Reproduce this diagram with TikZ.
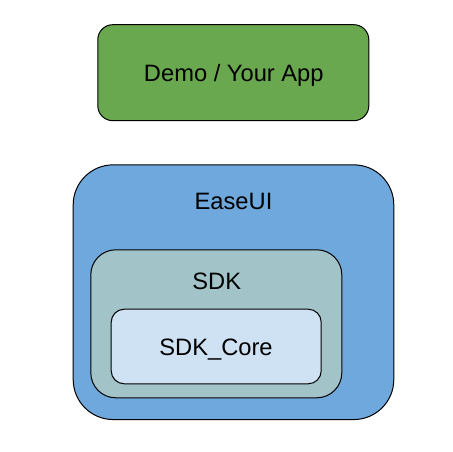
\documentclass[tikz,border=0pt]{standalone}
\usepackage{fontspec}
\setmainfont{Liberation Sans}
\definecolor{appgreen}{HTML}{6AA84F}
\definecolor{easeblue}{HTML}{6FA8DC}
\definecolor{sdkteal}{HTML}{A2C4C9}
\definecolor{coreblue}{HTML}{CFE2F3}
\tikzset{
  boxstyle/.style={draw=black, line width=1pt, rectangle, inner sep=0pt},
  txt/.style={inner sep=0pt, anchor=base, font=\fontsize{23.7}{28}\selectfont}
}
\begin{document}
\begin{tikzpicture}[x=1pt,y=-1pt]
\useasboundingbox (0,0) rectangle (453,452);
\node[boxstyle, fill=appgreen, rounded corners=15pt, minimum width=271pt, minimum height=96pt] (app) at (233.3,72.7) {};
\node[txt] (apptxt) at (233.8,81.7) {Demo / Your App};
\node[boxstyle, fill=easeblue, rounded corners=40pt, minimum width=320.6pt, minimum height=254.7pt] (ease) at (233.5,292.2) {};
\node[txt] (easetxt) at (233.5,209) {EaseUI};
\node[boxstyle, fill=sdkteal, rounded corners=25pt, minimum width=251pt, minimum height=148pt] (sdk) at (216.3,323.8) {};
\node[txt] (sdktxt) at (216.7,289.3) {SDK};
\node[boxstyle, fill=coreblue, rounded corners=13pt, minimum width=210pt, minimum height=74.6pt] (core) at (216.2,346.5) {};
\node[txt] (coretxt) at (216,355) {SDK\_Core};
\end{tikzpicture}
\end{document}
